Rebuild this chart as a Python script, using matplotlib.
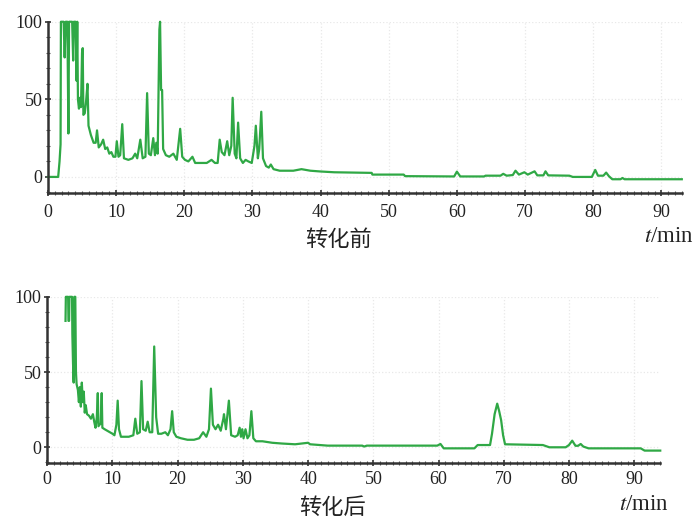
import numpy as np
import matplotlib.pyplot as plt
from matplotlib.ticker import MultipleLocator

plt.rcParams["font.family"] = ["Liberation Serif", "DejaVu Serif"]
plt.rcParams["mathtext.fontset"] = "stix"

# chromatogram before conversion (time in min, relative response)
t_before = [0, 1.5, 1.7, 1.85, 1.9, 2.3, 2.45, 2.6, 2.85, 3.0, 3.1, 3.55, 3.7, 3.8, 4.05,
            4.2, 4.3, 4.4, 4.55, 4.7, 4.85, 5.0, 5.1, 5.2, 5.4, 5.6, 5.8, 5.95, 6.3, 6.7,
            7.0, 7.2, 7.45, 7.8, 8.1, 8.4, 8.7, 9.0, 9.3, 9.6, 9.9, 10.1, 10.35, 10.6, 10.9,
            11.15, 11.8, 12.4, 12.8, 13.1, 13.55, 13.9, 14.3, 14.55, 14.8, 15.1, 15.45, 15.7,
            15.9, 16.1, 16.35, 16.45, 16.6, 16.75, 16.9, 17.3, 17.8, 18.4, 18.9, 19.4, 19.7,
            20.1, 20.6, 21.2, 21.6, 22.5, 23.3, 24.0, 24.5, 24.9, 25.2, 25.5, 25.9, 26.3,
            26.6, 26.9, 27.1, 27.4, 27.65, 27.9, 28.2, 28.6, 29.0, 29.4, 29.9, 30.3, 30.5,
            30.8, 31.0, 31.3, 31.55, 32.0, 32.4, 32.7, 33.1, 34.0, 36.0, 37.2, 38.5, 40.0,
            42.0, 47.5, 47.6, 52.2, 52.4, 58.0, 59.6, 60.0, 60.5, 64.0, 64.2, 66.4, 66.8,
            67.3, 68.2, 68.6, 69.1, 69.9, 70.4, 71.4, 71.8, 72.7, 73.0, 73.4, 76.5, 77.0,
            79.8, 80.3, 80.7, 81.5, 81.9, 82.3, 82.8, 84.0, 84.3, 84.6, 93.0]
y_before = [0, 0, 10, 21, 100, 100, 77, 100, 100, 28, 100, 100, 75, 100, 100,
            62, 100, 50, 44, 51, 45, 80, 83, 40, 41, 49, 60, 33, 27, 22,
            22, 30, 19, 21, 24, 18, 19, 15, 16, 13, 13, 23, 13, 14, 34,
            12, 11, 12, 15, 12, 24, 12, 13, 54, 15, 14, 25, 14,
            22, 15, 95, 100, 56, 56, 18, 14, 13, 15, 11, 31, 13,
            11, 10, 13, 9, 9, 9, 11, 9, 9, 24, 16, 14, 23,
            14, 20, 51, 15, 12, 35, 12, 9, 11, 10, 9, 20, 33,
            12, 18, 42, 12, 7, 6, 8, 5, 4, 4, 5, 4, 3.5,
            3, 2.6, 1.5, 1.5, 0.5, 0.3, 0.3, 3.4, 0.3, 0.3, 0.8, 0.8, 2,
            0.8, 1.2, 4, 1.5, 3, 1.5, 3.6, 1.0, 1.0, 3.6, 1.0, 0.8, 0,
            0, 4.5, 0.8, 0.8, 2.8, 0.5, -1.5, -1.5, -0.7, -1.5, -1.5]

# chromatogram after conversion
t_after = [2.8, 2.85, 3.2, 3.25, 3.35, 3.4, 3.8, 3.85, 3.95, 4.05, 4.15, 4.3, 4.4, 4.5,
           4.7, 4.85, 5.0, 5.15, 5.3, 5.45, 5.6, 5.75, 5.9, 6.1, 6.4, 6.7, 7.0, 7.2, 7.4,
           7.6, 7.75, 7.85, 8.2, 8.35, 8.45, 8.8, 9.2, 9.6, 10.0, 10.3, 10.6, 10.8, 11.0,
           11.3, 12.5, 13.2, 13.5, 13.8, 14.2, 14.45, 14.7, 15.1, 15.4, 15.7, 16.1, 16.4,
           16.7, 17.0, 17.5, 18.1, 18.5, 18.9, 19.15, 19.4, 19.8, 20.5, 21.5, 22.5, 23.3,
           23.9, 24.4, 24.8, 25.1, 25.4, 25.8, 26.2, 26.6, 27.0, 27.1, 27.4, 27.85, 28.2,
           28.8, 29.2, 29.5, 29.7, 29.9, 30.1, 30.4, 30.7, 31.0, 31.3, 31.6, 32.0, 33.0,
           33.7, 34.5, 36.0, 38.0, 40.0, 40.3, 43.0, 48.3, 48.6, 49.0, 59.8, 60.3, 60.8,
           65.5, 66.0, 67.9, 68.2, 68.6, 69.0, 69.3, 69.6, 69.9, 70.2, 76.0, 77.0, 79.5,
           80.0, 80.5, 81.0, 81.4, 81.8, 82.2, 83.0, 91.0, 91.6, 94.0]
y_after = [84, 100, 100, 84, 84, 100, 100, 75, 56, 43, 100, 100, 50, 42,
           38, 30, 40, 27, 43, 30, 37, 23, 28, 22, 21, 19, 22, 17, 13,
           20, 36, 14, 16, 36, 13, 12, 11, 10, 9, 8, 15, 31, 12,
           7, 7, 8, 19, 9, 10, 44, 12, 11, 17, 10, 10, 67,
           20, 9, 9, 10, 8, 12, 24, 10, 7, 6, 5, 5, 6,
           10, 7, 12, 39, 15, 12, 15, 11, 19, 22, 12, 31, 8,
           7, 8, 13, 7, 12, 6, 12, 6, 8, 24, 6, 4, 4,
           3.5, 3, 2.5, 2, 3, 2, 1.1, 1.1, 0.5, 1.1, 1.1, 2.2, -0.7,
           -0.7, 1.5, 1.5, 9, 22, 29, 24, 18, 8, 2, 1.5, 0, 0,
           1.5, 4.4, 1, 1, 2.2, 0.5, -0.7, -0.7, -2.2, -2.2]

x_ticks = [0, 10, 20, 30, 40, 50, 60, 70, 80, 90]
y_ticks = [0, 50, 100]
titles = ["转化前", "转化后"]

LINE = "#2fa845"
AXIS = "#333333"


def style_axis(ax, xmax, xpad):
    ax.set_xlim(0, xmax)
    ax.set_ylim(-10.5, 100)
    ax.set_xticks(x_ticks)
    ax.set_yticks(y_ticks)
    ax.xaxis.set_minor_locator(MultipleLocator(1))
    ax.yaxis.set_minor_locator(MultipleLocator(10))
    for side in ("top", "right"):
        ax.spines[side].set_visible(False)
    for side in ("left", "bottom"):
        ax.spines[side].set_color(AXIS)
        ax.spines[side].set_linewidth(1.8)
    ax.tick_params(which="major", direction="inout", length=4, width=1.2,
                   colors=AXIS, labelsize=13, labelcolor="#222222", pad=2)
    ax.tick_params(axis="x", which="major", pad=xpad)
    ax.tick_params(which="minor", direction="inout", length=3, width=0.8, colors="#555555")
    ax.grid(True, which="major", color="#e8e8e8", linestyle=":", linewidth=0.9)
    ax.set_axisbelow(True)


fig = plt.figure(figsize=(6.95, 5.18), dpi=100)

ax1 = fig.add_axes([0.069, 0.627, 0.912, 0.331])
ax1.plot(t_before, np.clip(y_before, None, 100), color=LINE, lw=1.6, clip_on=False)
style_axis(ax1, 93.0, 6)

ax2 = fig.add_axes([0.068, 0.106, 0.882, 0.321])
ax2.plot(t_after, np.clip(y_after, None, 100), color=LINE, lw=1.6, clip_on=False)
style_axis(ax2, 94.0, 4)

cjk = ["Noto Sans CJK SC", "DejaVu Sans"]
fig.text(338 / 695, 1 - 239 / 518, titles[0], ha="center", va="center",
         fontsize=16, family=cjk, color="#222222")
fig.text(332 / 695, 1 - 507 / 518, titles[1], ha="center", va="center",
         fontsize=16, family=cjk, color="#222222")
fig.text(694 / 695, 1 - 237 / 518, r"$\mathit{t}$/min", ha="right", va="center",
         fontsize=16.5, color="#222222")
fig.text(669 / 695, 1 - 504 / 518, r"$\mathit{t}$/min", ha="right", va="center",
         fontsize=16.5, color="#222222")

fig.savefig("out.png", dpi=100)
